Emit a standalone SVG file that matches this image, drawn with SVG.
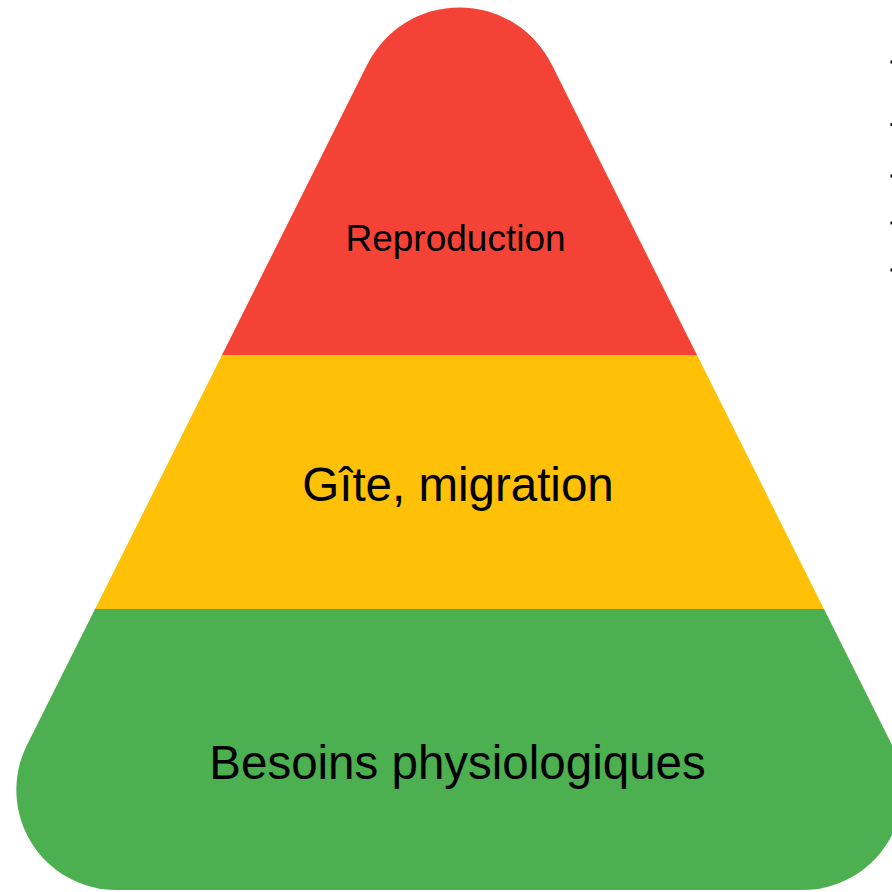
<svg xmlns="http://www.w3.org/2000/svg" width="892" height="892" viewBox="0 0 892 892">
  <style>
    .lbl { font-family: "Liberation Sans", Arial, sans-serif; fill: #000000; text-anchor: middle; }
    .tick { fill: #000000; }
  </style>
  <defs>
    <clipPath id="pyr">
      <path d="M 367.4 64.3 A 103 103 0 0 1 551.6 64.3 L 892.1 745.3 A 100 100 0 0 1 802.7 890 L 116.3 890 A 100 100 0 0 1 26.9 745.3 Z"/>
    </clipPath>
  </defs>
  <rect x="0" y="0" width="892" height="892" fill="#ffffff"/>
  <g clip-path="url(#pyr)">
    <g id="reproduction">
      <rect x="0" y="0" width="1000" height="355.5" fill="#F44336"/>
    </g>
    <g id="gite">
      <rect x="0" y="355.5" width="1000" height="253.5" fill="#FFC107"/>
    </g>
    <g id="besoins">
      <rect x="0" y="609" width="1000" height="300" fill="#4CAF50"/>
    </g>
  </g>
  <g id="labels">
    <text class="lbl" x="455.5" y="251" font-size="37">Reproduction</text>
    <text class="lbl" x="458" y="500.5" font-size="47.5">Gîte, migration</text>
    <text class="lbl" x="457.5" y="779" font-size="47.5">Besoins physiologiques</text>
  </g>
  <g id="connectors"></g>
  <g id="ticks">
    <rect class="tick" x="890.5" y="60.5" width="1.5" height="3"/>
    <rect class="tick" x="890.5" y="123" width="1.5" height="3"/>
    <rect class="tick" x="890.5" y="174.5" width="1.5" height="3"/>
    <rect class="tick" x="890.5" y="221.5" width="1.5" height="3"/>
    <rect class="tick" x="890.5" y="268.5" width="1.5" height="3"/>
  </g>
</svg>
